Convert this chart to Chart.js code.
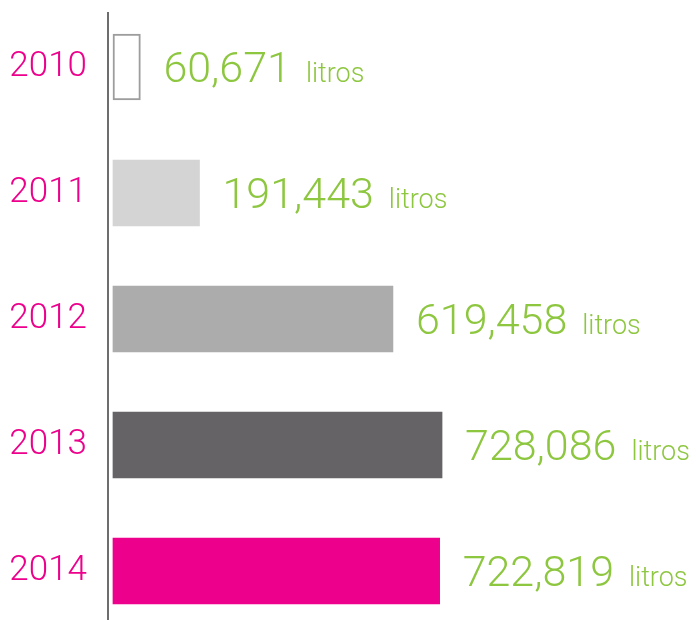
<!DOCTYPE html>
<html>
<head>
<meta charset="utf-8">
<title>Litros por año</title>
<script src="https://cdn.jsdelivr.net/npm/chart.js@4/dist/chart.umd.min.js"></script>
<style>
  html, body { margin: 0; padding: 0; background: #fff; overflow: hidden; }
  #wrap { width: 696px; height: 634px; }
</style>
</head>
<body>
<div id="wrap"><canvas id="chartLitros" width="696" height="634"></canvas></div>
<script>
/* --------------------------------------------
   Litros por año — horizontal bars
--------------------------------------------- */

const years = ["2010", "2011", "2012", "2013", "2014"];
const litros = [60671, 191443, 619458, 728086, 722819];
const unitLabel = "litros";

const barColors = ["#ffffff", "#d4d4d4", "#acacad", "#656366", "#ec008c"];
const barBorders = ["#9d9d9d", "#d4d4d4", "#acacad", "#656366", "#ec008c"];
const barBorderWidths = [2, 0, 0, 0, 0];

const FONT = "Roboto, 'Liberation Sans', sans-serif";

// value + "litros" written right after each bar
const valueLabels = {
  id: "valueLabels",
  afterDatasetsDraw(chart) {
    const ctx = chart.ctx;
    const meta = chart.getDatasetMeta(0);
    ctx.save();
    ctx.fillStyle = "#8dc63f";
    ctx.textBaseline = "alphabetic";
    ctx.textAlign = "left";
    meta.data.forEach((bar, i) => {
      const num = litros[i].toLocaleString("en-US");
      const x = bar.x + 23;
      const y = bar.y + 15;
      ctx.font = "300 43px " + FONT;
      ctx.fillText(num, x, y);
      const w = ctx.measureText(num).width;
      ctx.font = "300 27px " + FONT;
      ctx.fillText(unitLabel, x + w + 15, y);
    });
    ctx.restore();
  }
};

// vertical axis line
const axisLine = {
  id: "axisLine",
  afterDraw(chart) {
    const ctx = chart.ctx;
    const a = chart.chartArea;
    ctx.save();
    ctx.strokeStyle = "#6d6d6d";
    ctx.lineWidth = 2;
    ctx.beginPath();
    ctx.moveTo(a.left, 12);
    ctx.lineTo(a.left, a.bottom);
    ctx.stroke();
    ctx.restore();
  }
};

new Chart(document.getElementById("chartLitros"), {
  type: "bar",
  data: {
    labels: years,
    datasets: [{
      data: litros,
      backgroundColor: barColors,
      borderColor: barBorders,
      borderWidth: barBorderWidths,
      borderSkipped: false,
      barThickness: 66
    }]
  },
  options: {
    indexAxis: "y",
    responsive: false,
    animation: false,
    layout: { padding: { top: 4, right: 0, bottom: 0, left: 0 } },
    plugins: {
      legend: { display: false },
      tooltip: { enabled: false }
    },
    scales: {
      x: {
        display: false,
        min: -11000,
        max: 1290000
      },
      y: {
        afterFit(scale) {
          scale.width = 108;
          scale.paddingTop = 0;
          scale.paddingBottom = 0;
        },
        grid: { display: false, drawTicks: false },
        border: { display: false },
        ticks: {
          color: "#ec008c",
          padding: 21,
          font: { family: FONT, size: 35, weight: "300" }
        }
      }
    }
  },
  plugins: [valueLabels, axisLine]
});
</script>
</body>
</html>
